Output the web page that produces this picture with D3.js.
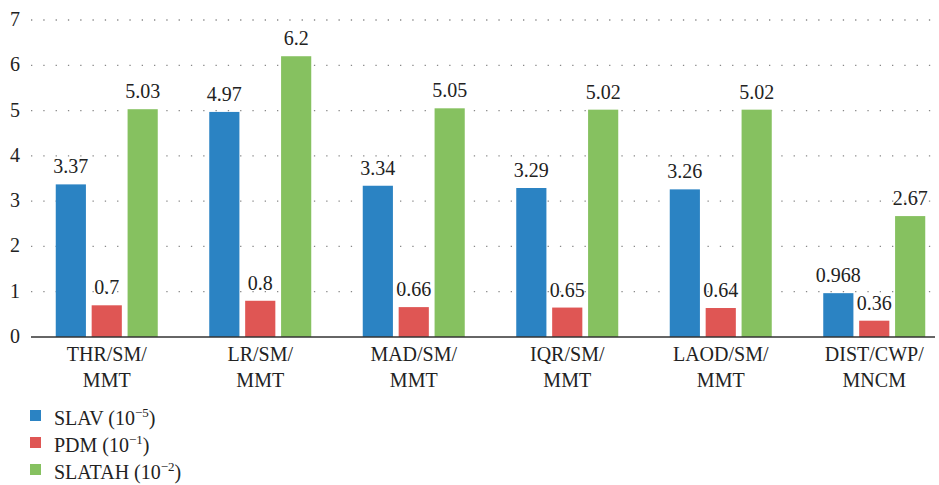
<!DOCTYPE html>
<html>
<head>
<meta charset="utf-8">
<script src="https://cdn.jsdelivr.net/npm/d3@7"></script>
</head>
<body style="margin:0">
<svg width="939" height="485"></svg>
<script>
// chart data
var categories = [["THR/SM/", "MMT"], ["LR/SM/", "MMT"], ["MAD/SM/", "MMT"],
                  ["IQR/SM/", "MMT"], ["LAOD/SM/", "MMT"], ["DIST/CWP/", "MNCM"]];
var slav = [3.37, 4.97, 3.34, 3.29, 3.26, 0.968];
var pdm = [0.7, 0.8, 0.66, 0.65, 0.64, 0.36];
var slatah = [5.03, 6.2, 5.05, 5.02, 5.02, 2.67];
var seriesNames = ["SLAV", "PDM", "SLATAH"];
var seriesExp = ["\u22125", "\u22121", "\u22122"];
var yTicks = [0, 1, 2, 3, 4, 5, 6, 7];

var colors = ["#2b83c3", "#df5654", "#86c160"];
var series = [slav, pdm, slatah];

var svg = d3.select("svg");

var x = d3.scaleBand()
    .domain(d3.range(categories.length))
    .range([30, 951]);

var inner = d3.scaleBand()
    .domain(d3.range(series.length))
    .range([x.bandwidth() / 2 - 51, x.bandwidth() / 2 + 51])
    .paddingInner(0.16);

var y = d3.scaleLinear()
    .domain([0, 7])
    .range([337, 20]);

// dotted grid
svg.append("g")
  .selectAll("line")
  .data(yTicks.slice(1))
  .enter().append("line")
    .attr("x1", 31)
    .attr("x2", 935)
    .attr("y1", function(d) { return y(d); })
    .attr("y2", function(d) { return y(d); })
    .attr("stroke", "#888")
    .attr("stroke-width", 1.3)
    .attr("stroke-dasharray", "1.3,11");

// y tick labels
svg.selectAll("text.tick")
  .data(yTicks)
  .enter().append("text")
    .attr("class", "tick")
    .attr("x", 20)
    .attr("y", function(d) { return y(d) + 6; })
    .attr("text-anchor", "end")
    .attr("font-size", 20)
    .attr("font-family", "Liberation Serif")
    .attr("fill", "#222")
    .text(function(d) { return d; });

// bars and value labels
series.forEach(function(s, j) {
  svg.selectAll("rect.s" + j)
    .data(s)
    .enter().append("rect")
      .attr("class", "s" + j)
      .attr("x", function(d, i) { return x(i) + inner(j); })
      .attr("width", inner.bandwidth())
      .attr("y", function(d) { return y(d); })
      .attr("height", function(d) { return y(0) - y(d); })
      .attr("fill", colors[j]);

  svg.selectAll("text.v" + j)
    .data(s)
    .enter().append("text")
      .attr("class", "v" + j)
      .attr("x", function(d, i) { return x(i) + inner(j) + inner.bandwidth() / 2; })
      .attr("y", function(d) { return y(d) - 11; })
      .attr("text-anchor", "middle")
      .attr("font-size", 20)
      .attr("font-family", "Liberation Serif")
      .attr("fill", "#222")
      .text(function(d) { return d; });
});

// category labels, two lines each
[0, 1].forEach(function(k) {
  svg.selectAll("text.c" + k)
    .data(categories)
    .enter().append("text")
      .attr("class", "c" + k)
      .attr("x", function(d, i) { return x(i) + x.bandwidth() / 2; })
      .attr("y", 361 + k * 26)
      .attr("text-anchor", "middle")
      .attr("font-size", 20)
      .attr("font-family", "Liberation Serif")
      .attr("fill", "#222")
      .text(function(d) { return d[k]; });
});

// x axis line
svg.append("line")
  .attr("x1", 31).attr("x2", 935)
  .attr("y1", y(0)).attr("y2", y(0))
  .attr("stroke", "#333")
  .attr("stroke-width", 1.5);

// legend
svg.selectAll("rect.lg")
  .data(seriesNames)
  .enter().append("rect")
    .attr("class", "lg")
    .attr("x", 30)
    .attr("y", function(d, i) { return 410 + i * 27; })
    .attr("width", 11).attr("height", 11)
    .attr("fill", function(d, i) { return colors[i]; });

var lt = svg.selectAll("text.lg")
  .data(seriesNames)
  .enter().append("text")
    .attr("class", "lg")
    .attr("x", 54)
    .attr("y", function(d, i) { return 425 + i * 27; })
    .attr("font-size", 20)
    .attr("font-family", "Liberation Serif")
    .attr("fill", "#222");
lt.append("tspan").text(function(d) { return d + " (10"; });
lt.append("tspan")
  .attr("dy", -8)
  .attr("font-size", 13)
  .text(function(d, i) { return seriesExp[i]; });
lt.append("tspan")
  .attr("dy", 8)
  .text(")");
</script>
</body>
</html>
